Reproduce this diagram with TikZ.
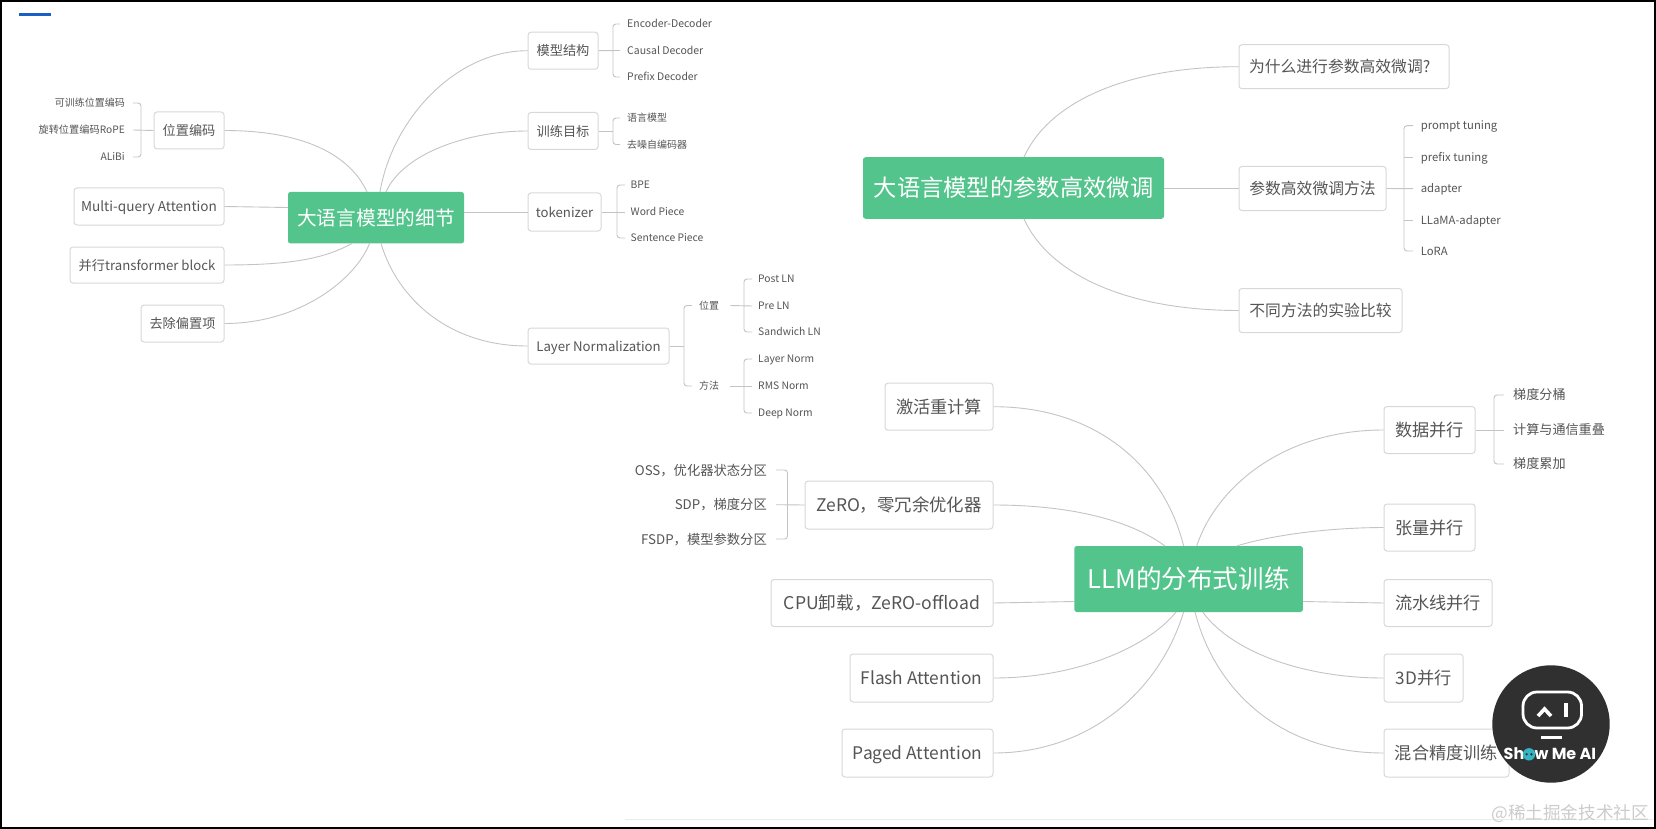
\documentclass[tikz,border=0pt]{standalone}
\usepackage{fontspec}
\setmainfont{Noto Sans CJK SC}
\newfontfamily\logofont{Poppins}
\usetikzlibrary{calc}
\definecolor{hubgreen}{HTML}{52C48C}
\definecolor{inktext}{HTML}{555555}
\definecolor{edgegray}{HTML}{C4C4C4}
\definecolor{boxgray}{HTML}{D8D8D8}
\definecolor{barblue}{HTML}{1A5FC4}
\definecolor{logoteal}{HTML}{35B5C4}
\definecolor{logodark}{HTML}{303030}
\newcommand{\fs}[1]{\fontsize{#1}{#1}\selectfont}
\tikzset{
  x=1pt,y=-1pt,
  fz/.style={font=\fs{#1},text height=0.88*#1pt,text depth=0.12*#1pt},
  hub/.style={fill=hubgreen,rounded corners=2.5,text=white,inner sep=0,anchor=center},
  topic/.style={draw=boxgray,line width=1,fill=white,rounded corners=3,text=inktext,inner sep=0,anchor=center},
  leaf/.style={text=inktext,inner sep=0,anchor=west,fz=#1},
  leafr/.style={text=inktext,inner sep=0,anchor=east,fz=#1},
  conn/.style={draw=edgegray,line width=0.9},
  brk/.style={draw=edgegray,line width=0.9,rounded corners=3},
}
\begin{document}
\begin{tikzpicture}
\useasboundingbox (0,0) rectangle (1656,829);
\fill[white] (0,0) rectangle (1656,829);
\fill[barblue] (19,12.6) rectangle (51,15.6);
\draw[line width=0.6,draw=black!8] (625,819) -- (1653,819);

% ---------- hub 1
\node[hub,minimum width=176,minimum height=51.5,fz=19.7] (d) at (376,217.7) {大语言模型的细节};
\node[topic,minimum width=70,minimum height=37,fz=13.2] (m) at (563,50.7) {模型结构};
\node[topic,minimum width=70,minimum height=37,fz=13.2] (t) at (563,131) {训练目标};
\node[topic,minimum width=73,minimum height=38,fz=13.2] (k) at (564.5,212) {tokenizer};
\node[topic,minimum width=141,minimum height=36,fz=13.2] (l) at (598.5,346) {Layer Normalization};
\node[topic,minimum width=70,minimum height=37,fz=13.2] (p) at (189,130.5) {位置编码};
\node[topic,minimum width=150,minimum height=37,fz=13.6] (q) at (149,206.5) {Multi-query Attention};
\node[topic,minimum width=154,minimum height=36,fz=13.2] (b) at (147,265) {并行transformer block};
\node[topic,minimum width=83,minimum height=37,fz=13.2] (r) at (182.5,323.5) {去除偏置项};

\node[leaf=10.5] (m1) at (627,24) {Encoder-Decoder};
\node[leaf=10.5] (m2) at (627,50.5) {Causal Decoder};
\node[leaf=10.4] (m3) at (627,77) {Prefix Decoder};
\node[leaf=10] (t1) at (627,118) {语言模型};
\node[leaf=10] (t2) at (627,144.5) {去噪自编码器};
\node[leaf=10.3] (k1) at (630.5,185) {BPE};
\node[leaf=10.3] (k2) at (630.5,212) {Word Piece};
\node[leaf=10.3] (k3) at (630.5,238) {Sentence Piece};
\node[leaf=10] (ln1) at (699,305.5) {位置};
\node[leaf=10] (ln2) at (699,386) {方法};
\node[leaf=10.3] (a1) at (758,279) {Post LN};
\node[leaf=10.3] (a2) at (758,306) {Pre LN};
\node[leaf=10.3] (a3) at (758,332) {Sandwich LN};
\node[leaf=10.3] (b1) at (758,359) {Layer Norm};
\node[leaf=10.3] (b2) at (758,386) {RMS Norm};
\node[leaf=10.3] (b3) at (758,413) {Deep Norm};
\node[leafr=10] (p1) at (125,103) {可训练位置编码};
\node[leafr=10.2] (p2) at (125,130) {旋转位置编码RoPE};
\node[leafr=10.3] (p3) at (125,157) {ALiBi};

\coordinate (dp) at (367,192);
\coordinate (dm) at (380,192);
\coordinate (dt) at (386,192);
\coordinate (db) at (352,243.5);
\coordinate (dr) at (369.5,243.5);
\coordinate (dl) at (381,243.5);
\draw[conn] (p.east) .. controls (304,130.5) and (350,155) .. (dp);
\draw[conn] (m.west) .. controls (455,50.7) and (392,120) .. (dm);
\draw[conn] (t.west) .. controls (465,131) and (402,155) .. (dt);
\draw[conn] (b.east) .. controls (294,265) and (325,258) .. (db);
\draw[conn] (r.east) .. controls (299,323.5) and (355,280) .. (dr);
\draw[conn] (l.west) .. controls (450,346) and (398,300) .. (dl);
\draw[conn] (q.east) -- (d.west |- 0,207.5);
\draw[conn] (d.east |- k.west) -- (k.west);

\draw[brk] ($(m1.west)+(-7,0)$) -| (613,50) |- ($(m3.west)+(-7,0)$);
\draw[conn] (m.east) -- ($(m2.west)+(-7,0)$);
\draw[brk] ($(t1.west)+(-7,0)$) -| (613,131) |- ($(t2.west)+(-7,0)$);
\draw[conn] (t.east) -- (613,131);
\draw[brk] ($(k1.west)+(-5.5,0)$) -| (617,212) |- ($(k3.west)+(-5.5,0)$);
\draw[conn] (k.east) -- ($(k2.west)+(-5.5,0)$);
\draw[brk] ($(ln1.west)+(-7,0)$) -| (684,346) |- ($(ln2.west)+(-7,0)$);
\draw[conn] (l.east) -- (684,346);
\draw[brk] ($(a1.west)+(-6,0)$) -| (744,306) |- ($(a3.west)+(-6,0)$);
\draw[conn] ($(ln1.east)+(11,0)$) -- ($(a2.west)+(-6,0)$);
\draw[brk] ($(b1.west)+(-6,0)$) -| (744,386) |- ($(b3.west)+(-6,0)$);
\draw[conn] ($(ln2.east)+(11,0)$) -- ($(b2.west)+(-6,0)$);
\draw[brk] ($(p1.east)+(8,0)$) -| (141,130) |- ($(p3.east)+(8,0)$);
\draw[conn] (p.west) -- ($(p2.east)+(8,0)$);

% ---------- hub 2
\node[hub,minimum width=301,minimum height=61.5,fz=23.3] (f) at (1013.5,188) {大语言模型的参数高效微调};
\node[topic,minimum width=210,minimum height=44,fz=15.8,text width=190,align=left] (f1) at (1344,66.7) {为什么进行参数高效微调?};
\node[topic,minimum width=147,minimum height=44,fz=15.8] (f2) at (1312.5,188.5) {参数高效微调方法};
\node[topic,minimum width=163,minimum height=44,fz=15.8] (f3) at (1320.5,310.5) {不同方法的实验比较};
\node[leaf=11.3] (g1) at (1420.6,125.7) {prompt tuning};
\node[leaf=11.3] (g2) at (1420.6,157) {prefix tuning};
\node[leaf=11.3] (g3) at (1420.6,188.7) {adapter};
\node[leaf=11.3] (g4) at (1420.6,220) {LLaMA-adapter};
\node[leaf=11.3] (g5) at (1420.6,251) {LoRA};
\coordinate (fa) at (1024,157);
\coordinate (fb) at (1024,219);
\draw[conn] (f1.west) .. controls (1130,66.7) and (1050,100) .. (fa);
\draw[conn] (f3.west) .. controls (1130,310.5) and (1050,276) .. (fb);
\draw[conn] (f.east |- f2.west) -- (f2.west);
\draw[brk] ($(g1.west)+(-7.5,0)$) -| (1404,188) |- ($(g5.west)+(-7.5,0)$);
\draw[conn] (f2.east) -- ($(g3.west)+(-7.5,0)$);
\draw[conn] (1404,157) -- ($(g2.west)+(-7.5,0)$);
\draw[conn] (1404,220) -- ($(g4.west)+(-7.5,0)$);

% ---------- hub 3
\node[hub,minimum width=228.5,minimum height=66,fz=25.6] (h) at (1188.6,579) {LLM的分布式训练};
\node[topic,minimum width=108,minimum height=47,fz=17.2] (h1) at (939,406.7) {激活重计算};
\node[topic,minimum width=188,minimum height=48,fz=17.4] (h2) at (899,505) {ZeRO，零冗余优化器};
\node[topic,minimum width=222,minimum height=47,fz=17.6] (h3) at (882,603) {CPU卸载，ZeRO-offload};
\node[topic,minimum width=143,minimum height=48,fz=17.3] (h4) at (921.5,678) {Flash Attention};
\node[topic,minimum width=151,minimum height=48,fz=17.4] (h5) at (917.5,753) {Paged Attention};
\node[topic,minimum width=91,minimum height=47,fz=17.2] (h6) at (1429.5,430) {数据并行};
\node[topic,minimum width=91,minimum height=47,fz=17.2] (h7) at (1429.5,527.5) {张量并行};
\node[topic,minimum width=108,minimum height=47,fz=17.2] (h8) at (1438,603) {流水线并行};
\node[topic,minimum width=79,minimum height=48,fz=17.2] (h9) at (1423.5,678) {3D并行};
\node[topic,minimum width=125,minimum height=48,fz=17.2] (h10) at (1446.5,753) {混合精度训练};
\node[leafr=13.3] (z1) at (767,470) {OSS，优化器状态分区};
\node[leafr=13.3] (z2) at (767,504.7) {SDP，梯度分区};
\node[leafr=13.3] (z3) at (767,539) {FSDP，模型参数分区};
\node[leaf=13.1] (s1) at (1513,395) {梯度分桶};
\node[leaf=13.1] (s2) at (1513,430) {计算与通信重叠};
\node[leaf=13.1] (s3) at (1513,464) {梯度累加};
\coordinate (ha) at (1183.6,546);
\coordinate (hb) at (1165,546);
\coordinate (hc) at (1176,612);
\coordinate (hd) at (1183.6,612);
\coordinate (he) at (1196.7,546);
\coordinate (hf) at (1236.7,546);
\coordinate (hg) at (1202.7,612);
\coordinate (hi) at (1195,612);
\draw[conn] (h1.east) .. controls (1100,406.7) and (1165,470) .. (ha);
\draw[conn] (h2.east) .. controls (1070,505) and (1130,520) .. (hb);
\draw[conn] (h3.east) -- (h.west |- 0,601.5);
\draw[conn] (h4.east) .. controls (1080,678) and (1150,645) .. (hc);
\draw[conn] (h5.east) .. controls (1090,753) and (1160,690) .. (hd);
\draw[conn] (h6.west) .. controls (1280,430) and (1215,490) .. (he);
\draw[conn] (h7.west) .. controls (1320,527.7) and (1265,537) .. (hf);
\draw[conn] (h8.west) -- (h.east |- 0,601.5);
\draw[conn] (h9.west) .. controls (1300,678) and (1230,650) .. (hg);
\draw[conn] (h10.west) .. controls (1280,753) and (1215,690) .. (hi);
\draw[brk] ($(z1.east)+(9,0)$) -| (787.5,504.7) |- ($(z3.east)+(9,0)$);
\draw[conn] (h2.west) -- ($(z2.east)+(9,0)$);
\draw[brk] ($(s1.west)+(-9,0)$) -| (1494,430) |- ($(s3.west)+(-9,0)$);
\draw[conn] (h6.east) -- ($(s2.west)+(-9,0)$);

% ---------- logo
\node[circle,fill=logodark,minimum size=117.4,inner sep=0] (logo) at (1551,724) {};
\draw[white,line width=2.8,rounded corners=14] (1523,692) rectangle (1581.5,728);
\draw[white,line width=3.6] (1538,716) -- (1544.5,709) -- (1551,716);
\fill[white] (1564,703) rectangle (1568,717);
\fill[white] (1541,735.8) rectangle (1562,738.6);
\node[inner sep=0,anchor=base west,text=white,font=\logofont\bfseries\fs{16}] (logotext) at (1503.5,759.3) {Sh\textcolor{logoteal}{o}w Me AI};
\coordinate (oc) at ($(logotext.base west)+(25.5,-5)$);
\fill[logoteal] (oc) circle[radius=6.2];
\fill[logodark] ($(oc)+(-2.4,0)$) circle[radius=1.3] ($(oc)+(2.4,0)$) circle[radius=1.3];

\node[inner sep=0,text=black!20,anchor=east,fz=17.6] (wm) at (1649,813) {@稀土掘金技术社区};

\draw[black,line width=2.2] (1,1) rectangle (1654.8,828);
\end{tikzpicture}
\end{document}
